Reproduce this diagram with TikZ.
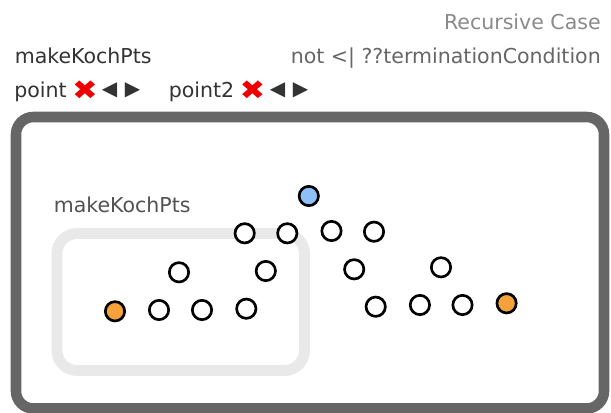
\documentclass[tikz,border=0pt]{standalone}
\usepackage{fontspec}
\setmainfont{DejaVu Sans}
\newfontfamily\symfont{DejaVu Sans}
\definecolor{frame}{HTML}{666666}
\definecolor{softgray}{HTML}{E9E9E9}
\definecolor{ptblue}{HTML}{8EC0F8}
\definecolor{ptorange}{HTML}{F6A23C}
\definecolor{txtdark}{HTML}{333333}
\definecolor{txtmid}{HTML}{666666}
\definecolor{txtlight}{HTML}{8A8A8A}
\definecolor{xred}{HTML}{EE0000}
\begin{document}
\begin{tikzpicture}[x=0.75pt,y=-0.75pt,
  lbl/.style={inner sep=0pt, font=\fontsize{15.4}{18}\selectfont},
  pt/.style={circle, draw=black, line width=2pt, fill=white, minimum size=14.5pt, inner sep=0pt},
  xmark/.style={inner sep=0pt, text=xred, font=\symfont\fontsize{20}{20}\selectfont, xscale=1.15},
  arr/.style={inner sep=0pt, text=txtdark, font=\symfont\fontsize{15}{15}\selectfont}
]
\useasboundingbox (0,0) rectangle (611,413);
% header texts
\node[lbl, anchor=base east, text=txtlight] (rc) at (601,30) {Recursive Case};
\node[lbl, anchor=base west, text=txtdark] (fn) at (14.5,64) {makeKochPts};
\node[lbl, anchor=base east, text=txtmid] (cond) at (601,64) {not <| ??terminationCondition};
\node[lbl, anchor=base west, text=txtdark] (p1) at (14,98) {point};
\node[xmark] (x1) at (85,90) {✖};
\node[arr] (l1) at (109.5,90.5) {◀};
\node[arr] (r1) at (132.5,90.5) {▶};
\node[lbl, anchor=base west, text=txtdark] (p2) at (168.5,98) {point2};
\node[xmark] (x2) at (252.5,90) {✖};
\node[arr] (l2) at (277.5,90.5) {◀};
\node[arr] (r2) at (300.5,90.5) {▶};
% outer frame
\draw[frame, line width=7.9pt, rounded corners=13pt] (16,117) rectangle (604,408.5);
% inner call box
\draw[softgray, line width=8.2pt, rounded corners=15pt] (57,233.5) rectangle (304.5,370.5);
\node[lbl, anchor=base west, text=txtdark!85] (inner) at (53.5,213) {makeKochPts};
% points
\node[pt, fill=ptblue] (b) at (308.8,196) {};
\node[pt] (a1) at (244.7,233.3) {};
\node[pt] (a2) at (287.3,233.3) {};
\node[pt] (a3) at (331.5,231) {};
\node[pt] (a4) at (374,231.7) {};
\node[pt] (m1) at (179,272.3) {};
\node[pt] (m2) at (265.8,271) {};
\node[pt] (m3) at (354.2,269.3) {};
\node[pt] (m4) at (441,267.3) {};
\node[pt, fill=ptorange] (o1) at (115,311.3) {};
\node[pt] (q1) at (159,310) {};
\node[pt] (q2) at (202,310) {};
\node[pt] (q3) at (246.3,308.7) {};
\node[pt] (q4) at (375.7,306.7) {};
\node[pt] (q5) at (419.9,305) {};
\node[pt] (q6) at (462.5,305) {};
\node[pt, fill=ptorange] (o2) at (506.6,303.3) {};
\end{tikzpicture}
\end{document}
